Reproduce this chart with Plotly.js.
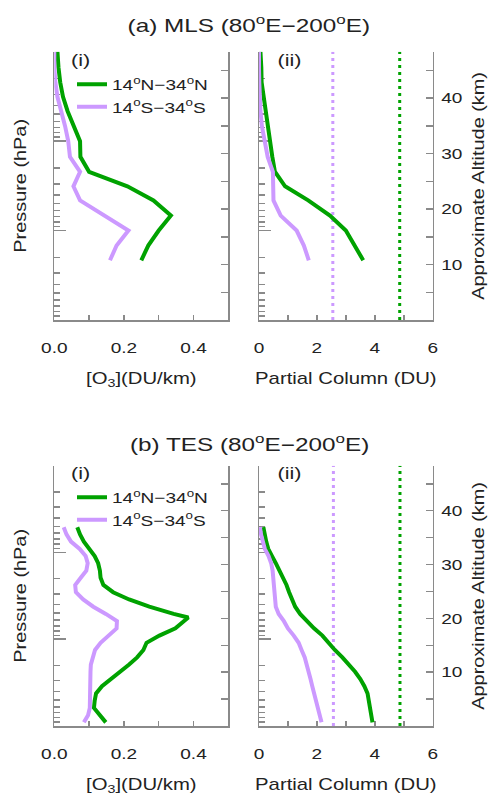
<!DOCTYPE html>
<html><head><meta charset="utf-8">
<script src="https://cdn.plot.ly/plotly-3.0.1.min.js"></script>
<style>html,body{margin:0;padding:0;background:#fff}</style>
</head><body>
<div id="chart" style="width:492px;height:797px"></div>
<script>
// ---------------- DATA ----------------
const regionNames = ['14<sup>o</sup>N\u221234<sup>o</sup>N', '14<sup>o</sup>S\u221234<sup>o</sup>S'];

// (a) MLS, pressure levels (hPa)
const mlsPressure = [215, 147, 100, 68, 46, 32, 22, 15, 10, 6.8, 4.6, 3.2, 2.2, 1.5, 1.0];
const mlsO3North  = [0.25, 0.27, 0.30, 0.335, 0.285, 0.21, 0.10, 0.075, 0.074, 0.055, 0.038, 0.025, 0.017, 0.012, 0.009];
const mlsO3South  = [0.16, 0.179, 0.213, 0.144, 0.074, 0.055, 0.074, 0.045, 0.040, 0.031, 0.019, 0.009, 0.003, 0.0, 0.0];
const mlsColNorth = [3.6, 3.3, 3.0, 2.45, 1.7, 0.9, 0.55, 0.46, 0.38, 0.30, 0.21, 0.15, 0.09, 0.08, 0.05];
const mlsColSouth = [1.72, 1.55, 1.3, 0.75, 0.5, 0.48, 0.48, 0.3, 0.2, 0.1, 0.05, 0.02, 0.01, 0.0, 0.0];
const mlsColumnTotals = [4.86, 2.55];   // [north, south] DU

// (b) TES, pressure levels (hPa)
const tesPressure = [908, 750, 619, 511, 422, 348, 287, 237, 196, 162, 133, 110, 90.8, 75, 61.9, 56.2, 51.1, 42.2, 34.8, 28.7, 23.7, 19.6, 16.2, 13.3, 11.0, 9.09, 7.5, 6.19, 5.11];
const tesO3North  = [0.148, 0.132, 0.114, 0.116, 0.12, 0.137, 0.164, 0.19, 0.215, 0.238, 0.256, 0.265, 0.302, 0.348, 0.374, 0.385, 0.343, 0.273, 0.215, 0.169, 0.141, 0.133, 0.131, 0.126, 0.116, 0.10, 0.085, 0.074, 0.066];
const tesO3South  = [0.085, 0.097, 0.102, 0.102, 0.102, 0.103, 0.104, 0.104, 0.105, 0.11, 0.117, 0.133, 0.156, 0.179, 0.18, 0.165, 0.148, 0.112, 0.083, 0.062, 0.06, 0.076, 0.092, 0.096, 0.09, 0.073, 0.048, 0.035, 0.027];
const tesColNorth = [3.92, 3.87, 3.84, 3.79, 3.75, 3.64, 3.5, 3.32, 3.12, 2.88, 2.62, 2.42, 2.19, 1.9, 1.65, 1.53, 1.42, 1.25, 1.13, 1.04, 0.95, 0.84, 0.72, 0.58, 0.45, 0.32, 0.25, 0.19, 0.15];
const tesColSouth = [2.16, 2.09, 2.02, 1.96, 1.9, 1.84, 1.78, 1.71, 1.65, 1.58, 1.47, 1.37, 1.2, 1.0, 0.86, 0.76, 0.68, 0.58, 0.56, 0.54, 0.52, 0.5, 0.47, 0.42, 0.33, 0.2, 0.12, 0.07, 0.03];
const tesColumnTotals = [4.87, 2.57];

const panelTitles = ['(a) MLS (80<sup>o</sup>E\u2212200<sup>o</sup>E)', '(b) TES (80<sup>o</sup>E\u2212200<sup>o</sup>E)'];
const altitudeTicks = [10, 20, 30, 40];
const altitudeMinorTicks = [5, 15, 25, 35, 45];

// ---------------- STYLE ----------------
const GREEN = '#00a200', PURPLE = '#cc99ff';
const LC = '#8a8a8a', TXT = '#222';
const FONT = 'Liberation Sans, Arial, sans-serif';
const W = 492, H = 797;
const scaleHeight = 7; // km, for approximate altitude
const altTop = scaleHeight * Math.log(1000);

const xDomI = [54.3 / W, 228.3 / W], xDomII = [259 / W, 432.7 / W];
const yDomA = [1 - 320 / H, 1 - 51.7 / H], yDomB = [1 - 726 / H, 1 - 465.7 / H];

function xAxis(dom, yName, range, dtick, fmt, title) {
  return {domain: dom, anchor: yName, range: range, tick0: 0, dtick: dtick, tickformat: fmt,
    ticks: 'inside', ticklen: 5, tickwidth: 1.5, tickcolor: LC, showline: true, linecolor: LC, linewidth: 1.5,
    minor: {tick0: 0, dtick: dtick / 2, ticks: 'inside', ticklen: 5, tickwidth: 1.5, tickcolor: LC, showgrid: false},
    showgrid: false, zeroline: false, layer: 'below traces', ticklabelstandoff: 14, automargin: false,
    tickfont: {size: 15, color: TXT, family: FONT},
    title: {text: title, font: {size: 16, color: TXT, family: FONT}, standoff: 17}};
}
function pAxis(dom, xName, title) {
  const a = {domain: dom, anchor: xName, type: 'log', range: [3, 0], dtick: 1, automargin: false,
    ticks: 'inside', ticklen: 12, tickwidth: 1.5, tickcolor: LC, showline: true, linecolor: LC, linewidth: 1.5,
    showticklabels: false, showgrid: false, zeroline: false, layer: 'below traces',
    minor: {ticks: 'inside', ticklen: 6, tickwidth: 1.5, tickcolor: LC, dtick: 'D1', showgrid: false}};
  if (title) a.title = {text: title, font: {size: 17, color: TXT, family: FONT}, standoff: 22};
  return a;
}
function altAxis(over, xName, showLabels, title) {
  const a = {overlaying: over, anchor: xName, side: 'right', range: [0, altTop], automargin: false,
    tickvals: altitudeTicks, ticktext: altitudeTicks.map(String), showticklabels: showLabels,
    ticks: 'inside', ticklen: 7, tickwidth: 1.5, tickcolor: LC,
    minor: {tickvals: altitudeMinorTicks, ticks: 'inside', ticklen: 7, tickwidth: 1.5, tickcolor: LC, showgrid: false},
    showline: true, linecolor: LC, linewidth: 1.5, showgrid: false, zeroline: false, layer: 'below traces',
    ticklabelstandoff: 4, tickfont: {size: 15, color: TXT, family: FONT}};
  if (title) a.title = {text: title, font: {size: 17, color: TXT, family: FONT}, standoff: 15};
  return a;
}

const traces = [];
function profile(x, y, color, xa, ya, name, legend) {
  traces.push({x: x, y: y, xaxis: xa, yaxis: ya, mode: 'lines', name: name,
    line: {color: color, width: 4}, showlegend: !!legend, legend: legend || 'legend', hoverinfo: 'skip'});
}
function totalLine(v, color, xa, ya) {
  traces.push({x: [v, v], y: [1000, 1], xaxis: xa, yaxis: ya, mode: 'lines', showlegend: false,
    line: {color: color, width: 3, dash: '3px,4px'}, hoverinfo: 'skip'});
}
// (a)
profile(mlsO3North, mlsPressure, GREEN, 'x', 'y', regionNames[0], 'legend');
profile(mlsO3South, mlsPressure, PURPLE, 'x', 'y', regionNames[1], 'legend');
totalLine(mlsColumnTotals[0], GREEN, 'x2', 'y2');
totalLine(mlsColumnTotals[1], PURPLE, 'x2', 'y2');
profile(mlsColNorth, mlsPressure, GREEN, 'x2', 'y2');
profile(mlsColSouth, mlsPressure, PURPLE, 'x2', 'y2');
// (b)
profile(tesO3North, tesPressure, GREEN, 'x3', 'y3', regionNames[0], 'legend2');
profile(tesO3South, tesPressure, PURPLE, 'x3', 'y3', regionNames[1], 'legend2');
totalLine(tesColumnTotals[0], GREEN, 'x4', 'y4');
totalLine(tesColumnTotals[1], PURPLE, 'x4', 'y4');
profile(tesColNorth, tesPressure, GREEN, 'x4', 'y4');
profile(tesColSouth, tesPressure, PURPLE, 'x4', 'y4');
// altitude overlay axes
['y5', 'y6', 'y7', 'y8'].forEach((ya, i) => {
  traces.push({x: [], y: [], xaxis: ['x', 'x2', 'x3', 'x4'][i], yaxis: ya, mode: 'lines', showlegend: false, hoverinfo: 'skip'});
});

const legendBase = {xanchor: 'left', yanchor: 'top', bgcolor: 'rgba(0,0,0,0)', borderwidth: 0,
  font: {size: 15, color: TXT, family: FONT}, itemwidth: 30, tracegroupgap: 0, traceorder: 'normal'};

const ann = (text, xref, yref, x, y, size) => ({text: text, xref: xref, yref: yref, x: x, y: y,
  showarrow: false, xanchor: 'center', yanchor: 'middle', font: {size: size, color: TXT, family: FONT}});

const layout = {
  width: W, height: H, margin: {l: 0, r: 0, t: 0, b: 0}, paper_bgcolor: '#fff', plot_bgcolor: 'rgba(0,0,0,0)',
  font: {family: FONT, color: TXT},
  xaxis: xAxis(xDomI, 'y', [0, 0.5], 0.2, '.1f', '[O<sub>3</sub>](DU/km)'),
  xaxis2: xAxis(xDomII, 'y2', [0, 6], 2, 'd', 'Partial Column (DU)'),
  xaxis3: xAxis(xDomI, 'y3', [0, 0.5], 0.2, '.1f', '[O<sub>3</sub>](DU/km)'),
  xaxis4: xAxis(xDomII, 'y4', [0, 6], 2, 'd', 'Partial Column (DU)'),
  yaxis: pAxis(yDomA, 'x', 'Pressure (hPa)'),
  yaxis2: pAxis(yDomA, 'x2'),
  yaxis3: pAxis(yDomB, 'x3', 'Pressure (hPa)'),
  yaxis4: pAxis(yDomB, 'x4'),
  yaxis5: altAxis('y', 'x', false),
  yaxis6: altAxis('y2', 'x2', true, 'Approximate Altitude (km)'),
  yaxis7: altAxis('y3', 'x3', false),
  yaxis8: altAxis('y4', 'x4', true, 'Approximate Altitude (km)'),
  legend: Object.assign({}, legendBase, {x: 72 / W, y: 1 - 68 / H}),
  legend2: Object.assign({}, legendBase, {x: 72 / W, y: 1 - 481 / H}),
  annotations: [
    ann(panelTitles[0], 'paper', 'paper', 249 / W, 1 - 25 / H, 18),
    ann(panelTitles[1], 'paper', 'paper', 249 / W, 1 - 443 / H, 18),
    ann('(i)', 'x domain', 'y domain', 0.148, 0.969, 17),
    ann('(ii)', 'x2 domain', 'y2 domain', 0.178, 0.969, 17),
    ann('(i)', 'x3 domain', 'y3 domain', 0.148, 0.969, 17),
    ann('(ii)', 'x4 domain', 'y4 domain', 0.178, 0.969, 17)
  ]
};

// The reference uses a wide typeface; widen glyphs along the reading direction,
// pivoting on the text's own anchor so that every label keeps its position.
function widenText(gd) {
  gd.querySelectorAll('svg text').forEach(t => {
    if (!t.textContent.trim()) return;
    const tr = t.getAttribute('transform') || '';
    if (t.__widened !== undefined && t.__widened === tr) return;
    const bb = t.getBBox();
    const anchor = t.getAttribute('text-anchor') || getComputedStyle(t).textAnchor || 'start';
    let px = bb.x;
    if (anchor === 'middle') px = bb.x + bb.width / 2;
    else if (anchor === 'end') px = bb.x + bb.width;
    const py = bb.y + bb.height / 2;
    const size = parseFloat(t.style.fontSize) || 15;
    let s = 1.27;
    if (/rotate\(-90/.test(tr)) s = 1.17;
    else if (size >= 18) s = 1.35;
    const nt = (tr + ' translate(' + px + ',' + py + ') scale(' + s + ',1) translate(' + (-px) + ',' + (-py) + ')').trim();
    t.setAttribute('transform', nt);
    t.__widened = nt;
  });
  gd.querySelectorAll('g[class^="legend"] [clip-path]').forEach(e => e.removeAttribute('clip-path'));
}

const gdiv = document.getElementById('chart');
Plotly.newPlot(gdiv, traces, layout, {staticPlot: true}).then(gd => {
  widenText(gd);
  [0, 30, 120, 400].forEach(ms => setTimeout(() => widenText(gd), ms));
});
</script>
</body></html>
